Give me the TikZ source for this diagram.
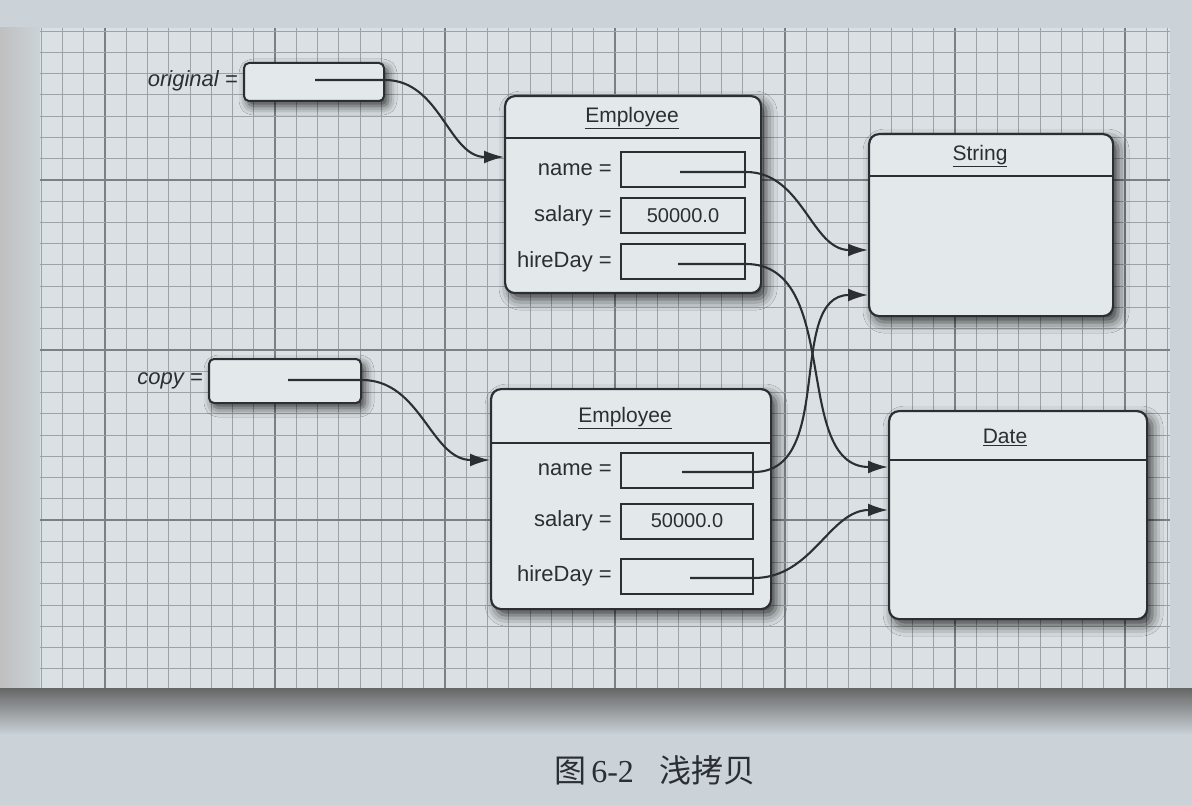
\documentclass[tikz,border=0pt]{standalone}
\usepackage{fontspec}
\setmainfont{Liberation Sans}
\newfontfamily\cjk{Noto Sans CJK SC}
\newfontfamily\serifnum{Liberation Serif}
\usetikzlibrary{arrows.meta,shadows.blur}
\definecolor{paper}{HTML}{DAE0E4}
\definecolor{pagebg}{HTML}{CBD3D8}
\definecolor{gridc}{HTML}{9CA2A6}
\definecolor{gridh}{HTML}{7A8084}
\definecolor{boxfill}{HTML}{E3E8EB}
\definecolor{ink}{HTML}{2B2F33}
\tikzset{
  obj/.style={draw=ink, line width=2.2pt, fill=boxfill, rounded corners=10pt, inner sep=0pt, anchor=north west,
    blur shadow={shadow xshift=5pt, shadow yshift=-6pt, shadow blur radius=11pt, shadow opacity=75}},
  refbox/.style={draw=ink, line width=2pt, fill=boxfill, rounded corners=5pt, inner sep=0pt, anchor=north west,
    blur shadow={shadow xshift=4pt, shadow yshift=-5pt, shadow blur radius=9pt, shadow opacity=75}},
  field/.style={draw=ink, line width=2pt, fill=boxfill, minimum width=124pt, minimum height=35pt, inner sep=0pt,
    anchor=west, text=ink, font=\fontsize{20}{22}\selectfont},
  lbl/.style={anchor=east, text=ink, font=\fontsize{22}{24}\selectfont, inner sep=0pt},
  varlbl/.style={anchor=east, text=ink, font=\fontsize{22}{24}\selectfont\itshape, inner sep=0pt},
  ttl/.style={text=ink, font=\fontsize{21}{23}\selectfont, inner sep=0pt},
  hdr/.style={draw=ink, line width=2pt},
  ptr/.style={draw=ink, line width=2.1pt, -{Latex[length=20pt,width=13pt]}},
  gridthin/.style={draw=gridc, line width=1pt},
  gridheavy/.style={draw=gridh, line width=1.8pt},
}
\begin{document}
\begin{tikzpicture}[x=1pt,y=-1pt]
\useasboundingbox (0,0) rectangle (1192,805);
% page and grid paper
\fill[pagebg] (0,0) rectangle (1192,805);
\shade[left color=black!25, right color=pagebg] (0,28) rectangle (40,688);
\fill[paper] (40,28) rectangle (1170,688);
\begin{scope}
  \clip (40,28) rectangle (1170,688);
  \foreach \i in {0,...,53}{
    \pgfmathsetmacro\xx{41.25+21.25*\i}
    \pgfmathtruncatemacro\mm{mod(\i+5,8)}
    \ifnum\mm=0 \draw[gridheavy] (\xx,28) -- (\xx,688); \else \draw[gridthin] (\xx,28) -- (\xx,688); \fi
  }
  \foreach \j in {0,...,31}{
    \pgfmathsetmacro\yy{31.25+21.25*\j}
    \pgfmathtruncatemacro\mm{mod(\j+1,8)}
    \ifnum\mm=0 \draw[gridheavy] (40,\yy) -- (1170,\yy); \else \draw[gridthin] (40,\yy) -- (1170,\yy); \fi
  }
\end{scope}
\shade[top color=black!60, bottom color=pagebg] (0,688) rectangle (1192,735);

% reference variables
\node[varlbl] (ol) at (238,81) {original =};
\node[refbox, minimum width=140pt, minimum height=38pt] (O) at (243,62) {};
\coordinate (op) at (315,80);
\node[varlbl] (cl) at (203,381) {copy =};
\node[refbox, minimum width=152pt, minimum height=44pt] (C) at (208,358) {};
\coordinate (cp) at (288,380);

% Employee 1
\node[obj, minimum width=256pt, minimum height=197pt] (E1) at (504,95) {};
\draw[hdr] (504,138) -- (760,138);
\node[ttl] (E1t) at (632,118) {\underline{Employee}};
\node[lbl] (E1nl) at (612,170) {name =};
\node[field] (E1n) at (620,170) {};
\node[lbl] (E1sl) at (612,216) {salary =};
\node[field] (E1s) at (620,216) {50000.0};
\node[lbl] (E1hl) at (612,262) {hireDay =};
\node[field] (E1h) at (620,262) {};
\coordinate (E1np) at (680,172);
\coordinate (E1hp) at (678,264);

% Employee 2
\node[obj, minimum width=280pt, minimum height=220pt] (E2) at (490,388) {};
\draw[hdr] (490,443) -- (770,443);
\node[ttl] (E2t) at (625,418) {\underline{Employee}};
\node[lbl] (E2nl) at (612,470) {name =};
\node[field, minimum width=132pt] (E2n) at (620,470) {};
\node[lbl] (E2sl) at (612,521) {salary =};
\node[field, minimum width=132pt] (E2s) at (620,521) {50000.0};
\node[lbl] (E2hl) at (612,576) {hireDay =};
\node[field, minimum width=132pt] (E2h) at (620,576) {};
\coordinate (E2np) at (682,472);
\coordinate (E2hp) at (690,578);

% String
\node[obj, minimum width=244pt, minimum height=182pt] (S) at (868,133) {};
\draw[hdr] (868,176) -- (1112,176);
\node[ttl] (St) at (980,156) {\underline{String}};

% Date
\node[obj, minimum width=258pt, minimum height=208pt] (D) at (888,410) {};
\draw[hdr] (888,460) -- (1146,460);
\node[ttl] (Dt) at (1005,437) {\underline{Date}};

% arrow targets
\coordinate (E1in) at (504,157);
\coordinate (E2in) at (490,460);
\coordinate (S1) at (868,250);
\coordinate (S2) at (868,295);
\coordinate (D1) at (888,467);
\coordinate (D2) at (888,510);

% pointers
\draw[ptr] (op) -- (O.east |- op) to[out=0,in=180] (E1in);
\draw[ptr] (cp) -- (C.east |- cp) to[out=0,in=180] (E2in);
\draw[ptr] (E1np) -- (E1n.east |- E1np) to[out=0,in=180] (S1);
\draw[ptr] (E1hp) -- (E1h.east |- E1hp) to[out=0,in=180] (D1);
\draw[ptr] (E2np) -- (E2n.east |- E2np) to[out=0,in=180] (S2);
\draw[ptr] (E2hp) -- (E2h.east |- E2hp) to[out=0,in=180] (D2);

% caption
\node[text=ink, font=\fontsize{32}{36}\selectfont] (cap) at (655,770)
  {{\cjk 图}\,{\serifnum 6-2}\hspace{26pt}{\cjk 浅拷贝}};
\end{tikzpicture}
\end{document}
